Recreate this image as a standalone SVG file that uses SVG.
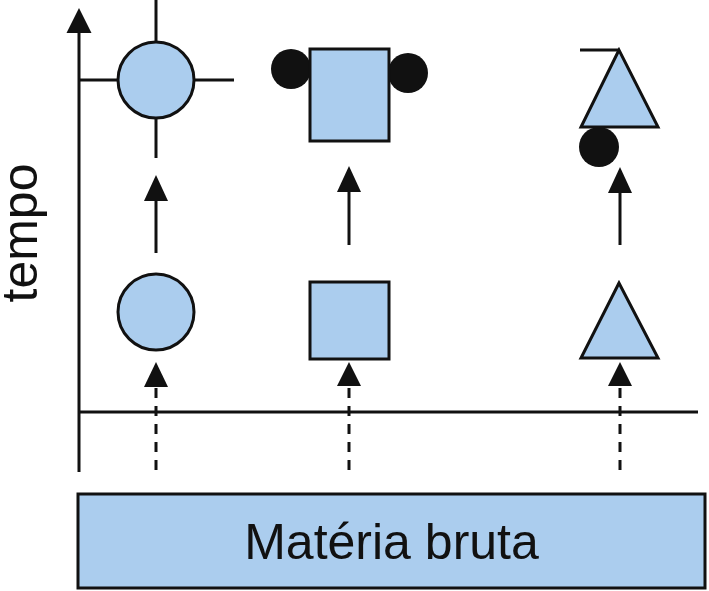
<svg xmlns="http://www.w3.org/2000/svg" width="709" height="591" viewBox="0 0 709 591">
<style>
.shape{fill:#abcdee;stroke:#111;stroke-width:3}
.dot{fill:#111}
.line{stroke:#111;stroke-width:3;fill:none}
.dash{stroke:#111;stroke-width:3;fill:none;stroke-dasharray:10 8}
.head{fill:#111}
.lbl{font-family:"Liberation Sans",Arial,sans-serif;font-size:50px;fill:#111}
</style>
<rect width="709" height="591" fill="#fff"/>
<g id="axes">
<line class="line" x1="79" y1="30" x2="79" y2="472"/>
<polygon class="head" points="79,8 66.5,33 91.5,33"/>
<line class="line" x1="79" y1="412" x2="698" y2="412"/>
<text class="lbl" transform="translate(37,233) rotate(-90)" text-anchor="middle" font-size="48">tempo</text>
</g>
<g id="connectors">
<line class="line" x1="156" y1="199" x2="156" y2="253"/>
<polygon class="head" points="156,175 144,201 168,201"/>
<line class="line" x1="349" y1="190" x2="349" y2="245"/>
<polygon class="head" points="349,166 337,192 361,192"/>
<line class="line" x1="620" y1="190" x2="620" y2="245"/>
<polygon class="head" points="620,167 608,193 632,193"/>
<line class="dash" x1="156" y1="388" x2="156" y2="478"/>
<polygon class="head" points="156,362 144,387 168,387"/>
<line class="dash" x1="349" y1="388" x2="349" y2="478"/>
<polygon class="head" points="349,362 337,386 361,386"/>
<line class="dash" x1="620" y1="388" x2="620" y2="478"/>
<polygon class="head" points="620,362 608,386 632,386"/>
</g>
<g id="circle-top">
<line class="line" x1="156" y1="0" x2="156" y2="158"/>
<line class="line" x1="79" y1="80" x2="234" y2="80"/>
<circle class="shape" cx="156" cy="80" r="38"/>
</g>
<g id="square-top">
<circle class="dot" cx="291" cy="69" r="20"/>
<circle class="dot" cx="408" cy="73" r="20"/>
<rect class="shape" x="310" y="49" width="79" height="92"/>
</g>
<g id="triangle-top">
<circle class="dot" cx="599" cy="147" r="20"/>
<line class="line" x1="580" y1="50" x2="619" y2="50"/>
<polygon class="shape" points="619,50 581,127 658,127"/>
</g>
<g id="circle-bottom">
<circle class="shape" cx="156" cy="312" r="38"/>
</g>
<g id="square-bottom">
<rect class="shape" x="310" y="282" width="79" height="77"/>
</g>
<g id="triangle-bottom">
<polygon class="shape" points="619,283 581,358 658,358"/>
</g>
<g id="materia-bruta">
<rect class="shape" x="78" y="494" width="627" height="94"/>
<text class="lbl" x="391.5" y="559" text-anchor="middle">Matéria bruta</text>
</g>
</svg>
